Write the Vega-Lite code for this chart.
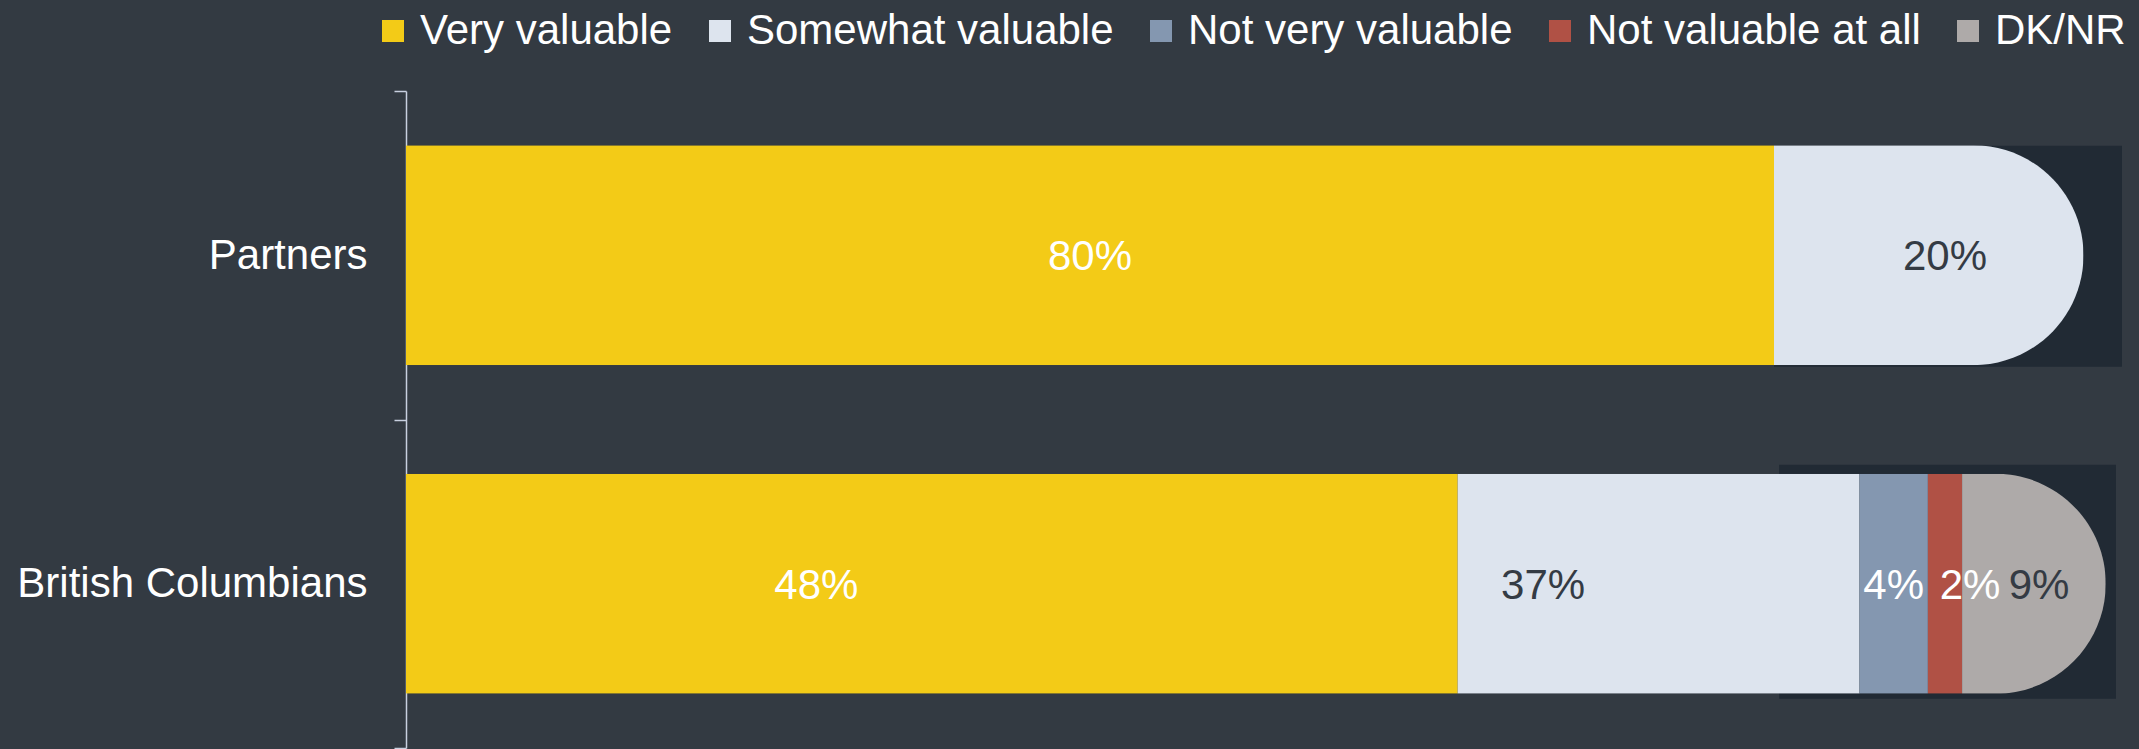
{
  "$schema": "https://vega.github.io/schema/vega-lite/v6.json",
  "width": 1710,
  "height": 657,
  "autosize": {"type": "none"},
  "padding": {"left": 406, "top": 91, "right": 23, "bottom": 1},
  "background": "#333a42",
  "config": {"view": {"stroke": null}, "font": "Liberation Sans"},
  "datasets": {
    "survey": [
      {"group": "Partners", "category": "Very valuable", "order": 1, "pct": 0.80, "drawn": 0.800},
      {"group": "Partners", "category": "Somewhat valuable", "order": 2, "pct": 0.20, "drawn": 0.181},
      {"group": "British Columbians", "category": "Very valuable", "order": 1, "pct": 0.48, "drawn": 0.615},
      {"group": "British Columbians", "category": "Somewhat valuable", "order": 2, "pct": 0.37, "drawn": 0.235},
      {"group": "British Columbians", "category": "Not very valuable", "order": 3, "pct": 0.04, "drawn": 0.040},
      {"group": "British Columbians", "category": "Not valuable at all", "order": 4, "pct": 0.02, "drawn": 0.020},
      {"group": "British Columbians", "category": "DK/NR", "order": 5, "pct": 0.09, "drawn": 0.084}
    ],
    "backing": [
      {"group": "Partners", "from": 0.80, "to": 1.0035},
      {"group": "British Columbians", "from": 0.803, "to": 1.0}
    ]
  },
  "encoding": {
    "y": {
      "field": "group",
      "type": "nominal",
      "sort": ["Partners", "British Columbians"],
      "scale": {"paddingInner": 0, "paddingOuter": 0},
      "axis": {
        "title": null,
        "tickBand": "extent",
        "grid": false,
        "domainColor": "#c8d0e0",
        "domainWidth": 1.5,
        "tickColor": "#c8d0e0",
        "tickWidth": 1.5,
        "tickSize": 12,
        "labelFontSize": 42,
        "labelColor": "#ffffff",
        "labelPadding": 27,
        "labelLimit": 500,
        "labelFont": "Liberation Sans"
      }
    }
  },
  "layer": [
    {
      "data": {"name": "backing"},
      "transform": [{"filter": "datum.group == 'Partners'"}],
      "mark": {"type": "bar", "color": "#212a34", "size": 221, "yOffset": 1},
      "encoding": {
        "x": {"field": "from", "type": "quantitative", "scale": {"domain": [0, 1], "nice": false, "zero": true}, "axis": null},
        "x2": {"field": "to"}
      }
    },
    {
      "data": {"name": "backing"},
      "transform": [{"filter": "datum.group == 'British Columbians'"}],
      "mark": {"type": "bar", "color": "#212a34", "size": 234, "yOffset": -2},
      "encoding": {
        "x": {"field": "from", "type": "quantitative", "scale": {"domain": [0, 1], "nice": false, "zero": true}, "axis": null},
        "x2": {"field": "to"}
      }
    },
    {
      "data": {"name": "survey"},
      "mark": {"type": "bar", "size": 220, "cornerRadiusEnd": 110},
      "encoding": {
        "x": {"field": "drawn", "type": "quantitative", "stack": "zero", "scale": {"domain": [0, 1], "nice": false, "zero": true}, "axis": null},
        "order": {"field": "order", "type": "quantitative"},
        "color": {
          "field": "category",
          "type": "nominal",
          "scale": {
            "domain": ["Very valuable", "Somewhat valuable", "Not very valuable", "Not valuable at all", "DK/NR"],
            "range": ["#f3cb17", "#dde4ee", "#8497b0", "#b05145", "#aeaaa9"]
          },
          "legend": {
            "orient": "none",
            "legendX": -34,
            "legendY": -81,
            "direction": "horizontal",
            "title": null,
            "symbolType": "square",
            "symbolSize": 484,
            "symbolStrokeWidth": 0,
            "symbolOpacity": 1,
            "labelFontSize": 42,
            "labelColor": "#ffffff",
            "labelFont": "Liberation Sans",
            "labelOffset": 6,
            "columnPadding": 26,
            "labelLimit": 700,
            "padding": 0
          }
        }
      }
    },
    {
      "data": {"name": "survey"},
      "mark": {"type": "text", "fontSize": 42, "baseline": "middle", "align": "center", "dy": 2},
      "encoding": {
        "x": {"field": "pct", "type": "quantitative", "stack": "zero", "bandPosition": 0.5, "scale": {"domain": [0, 1], "nice": false, "zero": true}, "axis": null},
        "order": {"field": "order", "type": "quantitative"},
        "text": {"field": "pct", "type": "quantitative", "format": ".0%"},
        "color": {
          "condition": {"test": "datum.category === 'Somewhat valuable' || datum.category === 'DK/NR'", "value": "#343b44"},
          "value": "#ffffff"
        },
        "opacity": {
          "condition": {"test": "datum.category === 'Not valuable at all'", "value": 0},
          "value": 1
        }
      }
    },
    {
      "data": {"name": "survey"},
      "transform": [
        {"stack": "pct", "groupby": ["group"], "sort": [{"field": "order"}], "as": ["s0", "s1"]},
        {"filter": "datum.category === 'Not valuable at all'"}
      ],
      "mark": {"type": "text", "fontSize": 42, "baseline": "middle", "align": "center", "dx": 8, "dy": 2, "color": "#ffffff"},
      "encoding": {
        "x": {"field": "s1", "type": "quantitative", "scale": {"domain": [0, 1], "nice": false, "zero": true}, "axis": null},
        "text": {"field": "pct", "type": "quantitative", "format": ".0%"}
      }
    }
  ]
}
